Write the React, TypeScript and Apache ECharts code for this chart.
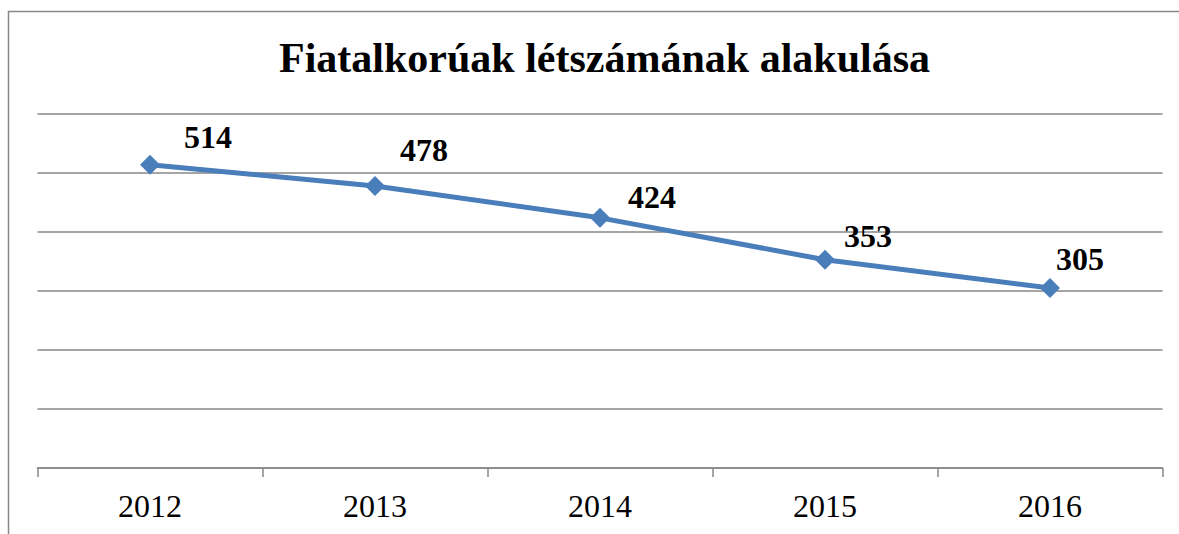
import React, { useEffect, useRef } from "react";
import * as echarts from "echarts";

const titleText = "Fiatalkorúak létszámának alakulása";
const categories = ["2012", "2013", "2014", "2015", "2016"];
const values = [514, 478, 424, 353, 305];
// label offsets (px) from each point
const labelOffsets: [number, number][] = [
  [58, -28],
  [49, -36],
  [52, -21],
  [43, -24],
  [30, -29],
];

const FONT = "'Liberation Serif', 'Times New Roman', serif";
const GRAY = "#878787";
const BLUE = "#4a7ebb";

export default function App() {
  const ref = useRef<HTMLDivElement>(null);
  useEffect(() => {
    if (!ref.current) return;
    const chart = echarts.init(ref.current, undefined, { renderer: "svg" });
    chart.setOption({
      animation: false,
      backgroundColor: "#ffffff",
      title: {
        text: titleText,
        left: 274,
        top: 32,
        textStyle: {
          fontFamily: FONT,
          fontWeight: "bold",
          fontSize: 42,
          color: "#000",
        },
      },
      graphic: [
        {
          type: "rect",
          shape: { x: 8.5, y: 11.5, width: 1200, height: 600 },
          style: { fill: "none", stroke: GRAY, lineWidth: 1.5 },
          silent: true,
        },
      ],
      grid: { left: 37.5, right: 16.5, top: 114, bottom: 66 },
      xAxis: {
        type: "category",
        data: categories,
        boundaryGap: true,
        axisLine: { show: true, lineStyle: { color: GRAY, width: 1.5 } },
        axisTick: {
          show: true,
          alignWithLabel: false,
          length: 9,
          inside: false,
          lineStyle: { color: GRAY, width: 1.5 },
        },
        axisLabel: {
          fontFamily: FONT,
          fontSize: 32,
          color: "#000",
          margin: 22,
        },
      },
      yAxis: {
        type: "value",
        min: 0,
        max: 600,
        interval: 100,
        axisLabel: { show: false },
        axisLine: { show: false },
        axisTick: { show: false },
        splitLine: { show: true, lineStyle: { color: GRAY, width: 1.5 } },
      },
      series: [
        {
          type: "line",
          data: values.map((v, i) => ({
            value: v,
            label: { offset: labelOffsets[i] },
          })),
          symbol: "diamond",
          symbolSize: 20,
          lineStyle: { color: BLUE, width: 5 },
          itemStyle: { color: BLUE },
          label: {
            show: true,
            position: "inside",
            fontFamily: FONT,
            fontWeight: "bold",
            fontSize: 32,
            color: "#000",
          },
        },
      ],
    });
    return () => chart.dispose();
  }, []);
  return (
    <div
      ref={ref}
      style={{ position: "fixed", left: 0, top: 0, width: 1179, height: 534 }}
    />
  );
}
